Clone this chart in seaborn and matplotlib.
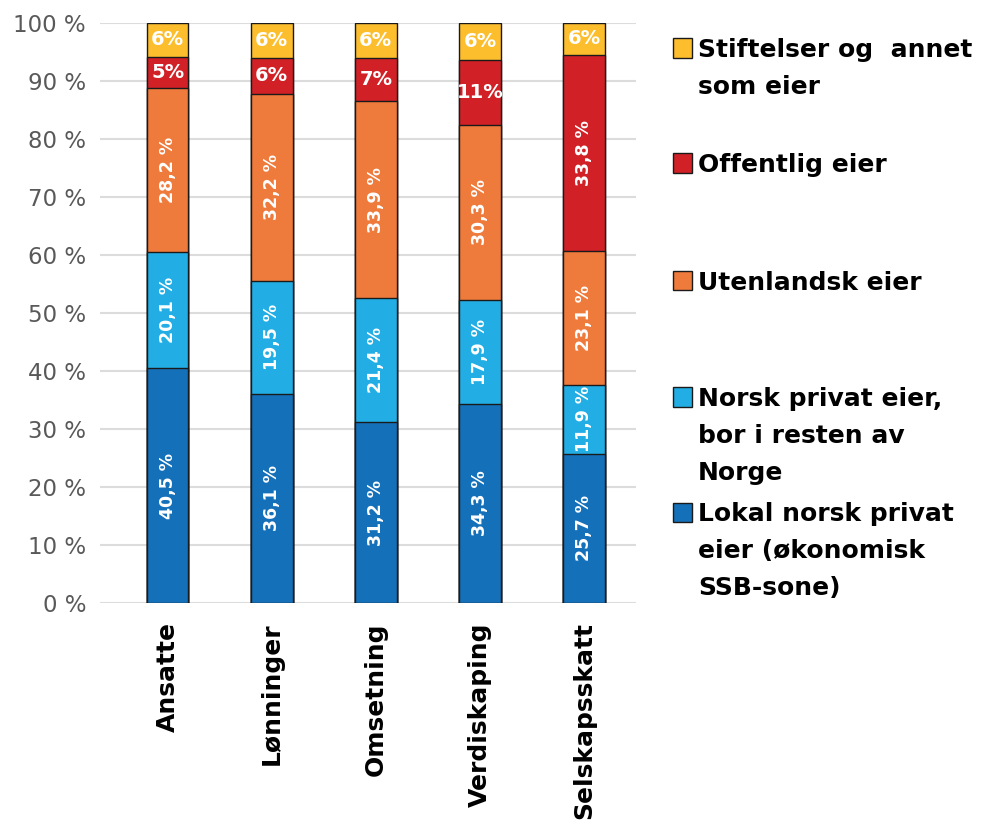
import matplotlib
matplotlib.use("Agg")
import matplotlib.pyplot as plt
from matplotlib.patches import Rectangle
import seaborn as sns
import pandas as pd
import numpy as np

categories = ["Ansatte", "Lønninger", "Omsetning", "Verdiskaping", "Selskapsskatt"]
series = [
    "Lokal norsk privat\neier (økonomisk\nSSB-sone)",
    "Norsk privat eier,\nbor i resten av\nNorge",
    "Utenlandsk eier",
    "Offentlig eier",
    "Stiftelser og  annet\nsom eier",
]
lokal = [40.5, 36.1, 31.2, 34.3, 25.7]
norsk_rest = [20.1, 19.5, 21.4, 17.9, 11.9]
utenlandsk = [28.2, 32.2, 33.9, 30.3, 23.1]
offentlig = [5.4, 6.2, 7.4, 11.2, 33.8]
stiftelser = [5.8, 6.0, 6.1, 6.3, 5.5]
colors = ["#1570BA", "#22AEE4", "#EE7A3C", "#D12126", "#FDBE2E"]

values = [lokal, norsk_rest, utenlandsk, offentlig, stiftelser]

sns.set_theme(style="white")
plt.rcParams["font.family"] = ["DejaVu Sans"]

fig = plt.figure(figsize=(9.97, 8.24), dpi=100)
ax = fig.add_axes([100 / 997, 1 - 603 / 824, 536 / 997, 580 / 824])

arr = np.array(values)
cum = np.cumsum(arr, axis=0)

# draw stacked bars by overlaying cumulative totals (top series first)
for i in range(len(series) - 1, -1, -1):
    df = pd.DataFrame({"cat": categories, "val": cum[i]})
    sns.barplot(data=df, x="cat", y="val", color=colors[i], saturation=1,
                width=0.4, edgecolor="#1a1a1a", linewidth=1.0, ax=ax, zorder=3)

# labels
for i in range(len(series)):
    for j in range(len(categories)):
        v = arr[i, j]
        bottom = cum[i, j] - v
        yc = bottom + v / 2
        if i < 3 or v > 15:
            txt = f"{v:.1f} %".replace(".", ",")
            ax.text(j, yc, txt, rotation=90, ha="center", va="center",
                    color="white", fontsize=12.5, fontweight="bold", zorder=5)
        else:
            txt = f"{int(v + 0.5)}%"
            ax.text(j, yc, txt, ha="center", va="center",
                    color="white", fontsize=14, fontweight="bold", zorder=5)

ax.set_ylim(0, 100)
ax.set_xlim(-0.65, 4.5)
ax.set_yticks(range(0, 101, 10))
ax.set_yticklabels([f"{t} %" for t in range(0, 101, 10)], color="#595959", fontsize=16.5)
ax.set_xticks(range(len(categories)))
ax.set_xticklabels(categories, rotation=90, fontsize=18, fontweight="bold", color="black")
ax.tick_params(axis="y", length=0, pad=10)
ax.tick_params(axis="x", length=0, pad=14)
ax.set_xlabel("")
ax.set_ylabel("")
for s in ax.spines.values():
    s.set_visible(False)
ax.yaxis.grid(True, color="#dcdcdc", linewidth=1.5, zorder=0)
ax.set_axisbelow(True)

# legend (manual placement)
leg_order = [4, 3, 2, 1, 0]
leg_y = [48, 163, 281, 397, 512]
line_gap = 37
for idx, yc in zip(leg_order, leg_y):
    sq = 19
    fig.add_artist(Rectangle((673 / 997, 1 - (yc + sq / 2) / 824), sq / 997, sq / 824,
                             facecolor=colors[idx], edgecolor="#1a1a1a", linewidth=1.0,
                             transform=fig.transFigure))
    for k, line in enumerate(series[idx].split("\n")):
        yb = yc + k * line_gap + 9
        fig.text(698 / 997, 1 - yb / 824, line, ha="left", va="baseline",
                 fontsize=18, fontweight="bold", color="black")

fig.savefig("out.png", dpi=100)
